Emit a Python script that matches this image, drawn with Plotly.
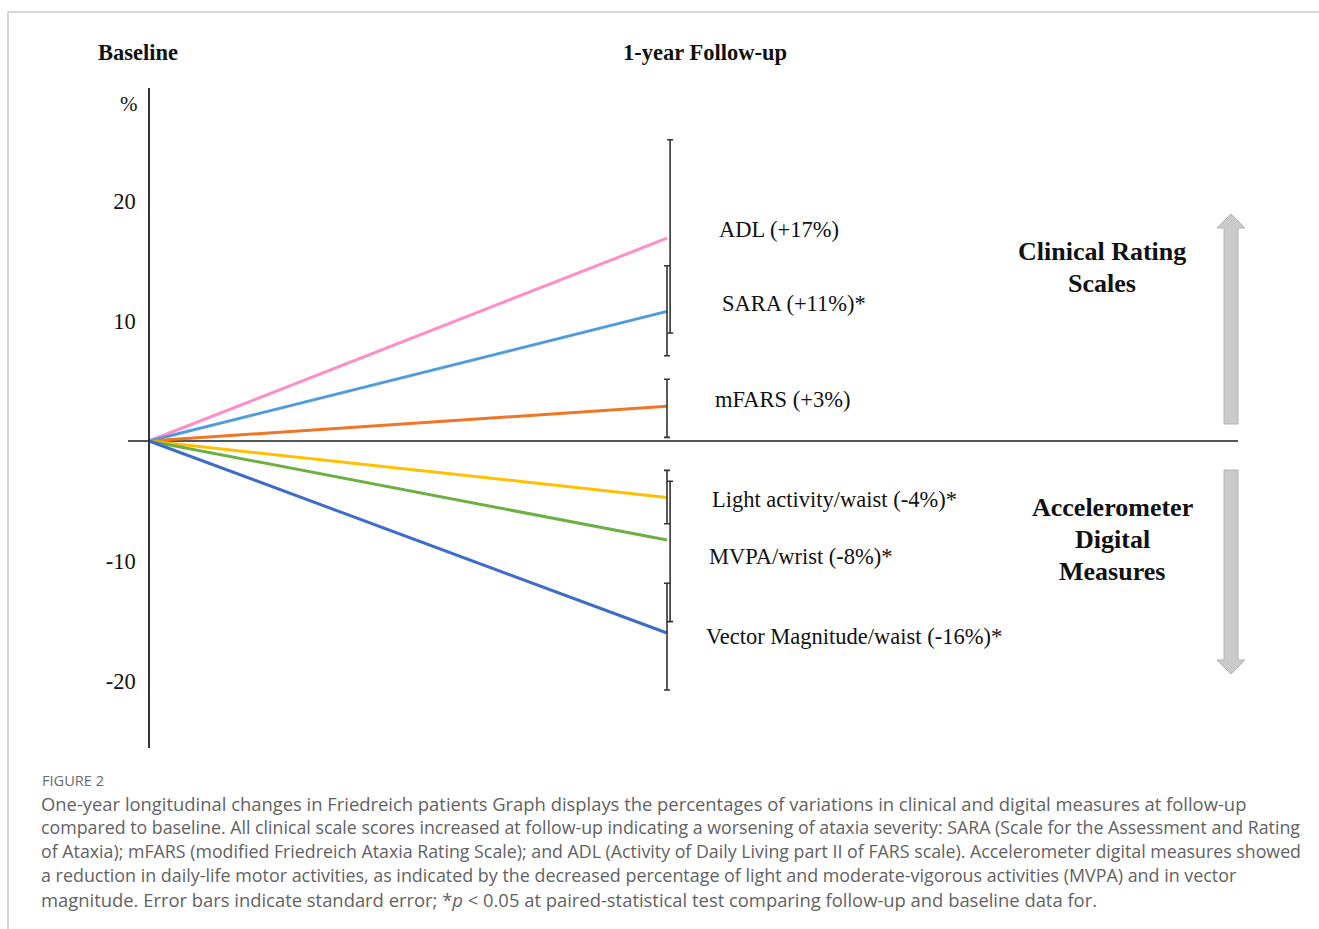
import plotly.graph_objects as go

W, H = 1319, 929

# ---------------- data ----------------
time_points = [0, 1]                      # Baseline, 1-year follow-up
measures = ["ADL", "SARA", "mFARS", "Light activity/waist", "MVPA/wrist", "Vector Magnitude/waist"]
change_pct = [16.9, 10.8, 2.9, -4.7, -8.25, -16.0]          # % change at follow-up
err_plus = [8.2, 3.8, 2.25, 2.25, 4.9, 4.15]               # upper error (SE) arm
err_minus = [7.9, 3.7, 2.6, 2.2, 6.8, 4.75]                # lower error (SE) arm
labels = ["ADL (+17%)", "SARA (+11%)*", "mFARS (+3%)",
          "Light activity/waist (-4%)*", "MVPA/wrist (-8%)*", "Vector Magnitude/waist (-16%)*"]
y_ticks = [20, 10, -10, -20]
y_tick_text = ["20", "10", "-10", "-20"]

caption_head = "FIGURE 2"
caption_lines = [
    "One-year longitudinal changes in Friedreich patients Graph displays the percentages of variations in clinical and digital measures at follow-up",
    "compared to baseline. All clinical scale scores increased at follow-up indicating a worsening of ataxia severity: SARA (Scale for the Assessment and Rating",
    "of Ataxia); mFARS (modified Friedreich Ataxia Rating Scale); and ADL (Activity of Daily Living part II of FARS scale). Accelerometer digital measures showed",
    "a reduction in daily-life motor activities, as indicated by the decreased percentage of light and moderate-vigorous activities (MVPA) and in vector",
    "magnitude. Error bars indicate standard error; *<i>p</i> &lt; 0.05 at paired-statistical test comparing follow-up and baseline data for.",
]

# ---------------- styles ----------------
colors = ["#FF8EC6", "#4F9BDB", "#EE7624", "#FFC000", "#6CB043", "#3D6CCB"]
errbar_dx = [0.006, 0.0, 0.0, 0.0, 0.006, 0.0]
label_px = [(717, 229), (720, 303), (713, 400), (710, 499), (707, 556), (704, 636)]
caption_sizes = [18.4, 17.8, 17.8, 17.9, 18.4]
SERIF = "Liberation Serif, Times New Roman, serif"
SANS = "Open Sans, Lato, sans-serif"


def px2paper(px, py):
    return px / W, 1 - py / H


# axis geometry (pixels)
x_left, x_right = 128, 1238
y_top, y_bot = 88, 748
x0_px, x1_px = 149, 667
zero_px = 441
px_per_x = x1_px - x0_px
px_per_y = 12.0
x_min = -(x0_px - x_left) / px_per_x
x_max = x_min + (x_right - x_left) / px_per_x
y_max = (zero_px - y_top) / px_per_y
y_min = (zero_px - y_bot) / px_per_y

fig = go.Figure()

for name, val, col in zip(measures, change_pct, colors):
    fig.add_trace(go.Scatter(
        x=time_points, y=[0, val], mode="lines", name=name,
        line=dict(color=col, width=3), showlegend=False, hoverinfo="skip"))

for val, ep, em, dx in zip(change_pct, err_plus, err_minus, errbar_dx):
    fig.add_trace(go.Scatter(
        x=[time_points[1] + dx], y=[val], mode="markers",
        marker=dict(size=1, color="rgba(0,0,0,0)"),
        error_y=dict(type="data", symmetric=False, array=[ep], arrayminus=[em],
                     color="#333333", thickness=1.6, width=3),
        showlegend=False, hoverinfo="skip"))

annotations = []


def add_text(px, py, text, size, xanchor="left", bold=False, font=SERIF, color="#111111"):
    x, y = px2paper(px, py)
    annotations.append(dict(
        x=x, y=y, xref="paper", yref="paper", text=text, showarrow=False,
        xanchor=xanchor, yanchor="middle",
        font=dict(family=font, size=size, color=color, weight="bold" if bold else "normal")))


for (lx, ly), t in zip(label_px, labels):
    add_text(lx, ly, t, 22.5)

add_text(138, 53, "Baseline", 22.5, xanchor="center", bold=True)
add_text(705, 53, "1-year Follow-up", 22.5, xanchor="center", bold=True)
add_text(129, 104, "%", 21, xanchor="center")

add_text(1102, 252, "Clinical Rating", 26, xanchor="center", bold=True)
add_text(1102, 283, "Scales", 26, xanchor="center", bold=True)
add_text(1112, 507, "Accelerometer", 26, xanchor="center", bold=True)
add_text(1112, 539, "Digital", 26, xanchor="center", bold=True)
add_text(1112, 571, "Measures", 26, xanchor="center", bold=True)

add_text(40, 780, caption_head, 14.6, font=SANS, color="#6b6b6b")
for i, (line, sz) in enumerate(zip(caption_lines, caption_sizes)):
    add_text(39, 803 + i * 24.1, line, sz, font=SANS, color="#626262")

# ---------------- decorative shapes ----------------
shapes = []


def path_from(points):
    segs = []
    for i, (px, py) in enumerate(points):
        x, y = px2paper(px, py)
        segs.append(("M" if i == 0 else "L") + f"{x:.5f},{y:.5f}")
    return " ".join(segs) + " Z"


up_arrow = [(1231, 214), (1245, 228), (1238, 228), (1238, 424), (1224, 424), (1224, 228), (1217, 228)]
down_arrow = [(1224, 470), (1238, 470), (1238, 660), (1245, 660), (1231, 674), (1217, 660), (1224, 660)]
for pts in (up_arrow, down_arrow):
    shapes.append(dict(type="path", xref="paper", yref="paper", path=path_from(pts),
                       fillcolor="#CACACA", line=dict(color="#B4B4B4", width=1)))

# figure frame lines (top and left)
bx, by = px2paper(8, 12)
shapes.append(dict(type="line", xref="paper", yref="paper", x0=bx, y0=by, x1=1, y1=by,
                   line=dict(color="#D6D6D6", width=2)))
shapes.append(dict(type="line", xref="paper", yref="paper", x0=bx, y0=by, x1=bx, y1=0,
                   line=dict(color="#D6D6D6", width=2)))

fig.update_layout(
    width=W, height=H,
    margin=dict(l=0, r=0, t=0, b=0),
    paper_bgcolor="white", plot_bgcolor="rgba(0,0,0,0)",
    showlegend=False,
    xaxis=dict(domain=[x_left / W, x_right / W], range=[x_min, x_max],
               visible=False, fixedrange=True),
    yaxis=dict(domain=[1 - y_bot / H, 1 - y_top / H], range=[y_min, y_max],
               anchor="free", position=x0_px / W,
               showline=True, linecolor="#333333", linewidth=1.5,
               zeroline=True, zerolinecolor="#555555", zerolinewidth=1.5,
               showgrid=False, ticks="", tickvals=y_ticks, ticktext=y_tick_text,
               ticklabelstandoff=8,
               tickfont=dict(family=SERIF, size=22.5, color="#111111"),
               fixedrange=True),
    annotations=annotations,
    shapes=shapes,
)

fig.write_html("out.html", config={"displayModeBar": False},
               post_script="document.body.style.margin='0';document.body.style.overflow='hidden';")
